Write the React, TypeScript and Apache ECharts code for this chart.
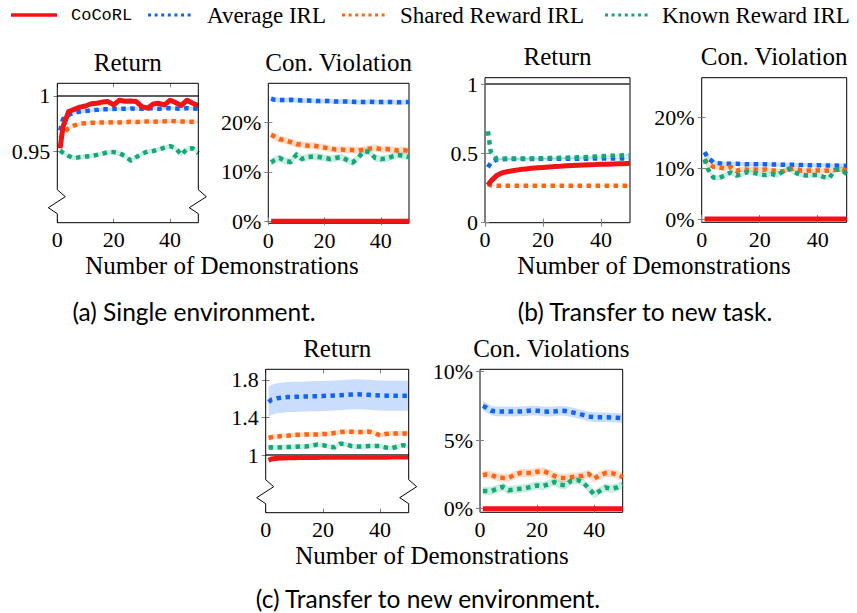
import React, { useEffect, useRef } from "react";
import * as echarts from "echarts";

// Number of demonstrations at which every method was evaluated
const X = [1, 2, 4, 6, 8, 10, 12, 14, 16, 18, 20, 22, 24, 26, 28, 30, 32, 34, 36, 38, 40, 42, 44, 46, 48, 50];

const METHODS = ["CoCoRL", "Average IRL", "Shared Reward IRL", "Known Reward IRL"];

// (a) Single environment: normalised return
const A_RET_COCORL = [0.953, 0.972, 0.986, 0.988, 0.990, 0.991, 0.993, 0.9935, 0.9945, 0.995, 0.992, 0.9962, 0.9952, 0.9955, 0.995, 0.9905, 0.989, 0.9928, 0.9934, 0.992, 0.9962, 0.994, 0.9915, 0.9962, 0.9934, 0.9913];
const A_RET_AVG = [0.969, 0.979, 0.983, 0.985, 0.986, 0.9865, 0.987, 0.9875, 0.988, 0.988, 0.9883, 0.9885, 0.9885, 0.9888, 0.9885, 0.9885, 0.9888, 0.989, 0.9885, 0.9888, 0.989, 0.9888, 0.9885, 0.989, 0.9888, 0.9885];
const A_RET_SHARED = [0.962, 0.966, 0.971, 0.9735, 0.975, 0.9755, 0.976, 0.976, 0.9762, 0.9762, 0.9765, 0.9762, 0.9765, 0.9768, 0.9765, 0.977, 0.977, 0.9768, 0.977, 0.9772, 0.9775, 0.9772, 0.977, 0.977, 0.9768, 0.9765];
const A_RET_KNOWN = [0.951, 0.949, 0.946, 0.944, 0.945, 0.9455, 0.946, 0.947, 0.948, 0.9495, 0.9495, 0.9485, 0.946, 0.942, 0.945, 0.948, 0.95, 0.9505, 0.952, 0.9535, 0.9548, 0.953, 0.947, 0.9525, 0.953, 0.9485];
const A_RET_SPREAD = [0.001, 0.0015, 0.0015, 0.002];

// (a) Single environment: constraint violation (%)
const A_CV_COCORL = [0, 0, 0, 0, 0, 0, 0, 0, 0, 0, 0, 0, 0, 0, 0, 0, 0, 0, 0, 0, 0, 0, 0, 0, 0, 0];
const A_CV_AVG = [24.8, 24.6, 24.5, 24.5, 24.55, 24.5, 24.4, 24.4, 24.35, 24.3, 24.3, 24.3, 24.2, 24.2, 24.2, 24.15, 24.1, 24.1, 24.15, 24.1, 24.1, 24.1, 24.1, 24.05, 24.1, 24.1];
const A_CV_SHARED = [17.5, 17.2, 16.6, 16.4, 16.0, 15.6, 15.5, 15.3, 15.3, 15.1, 14.9, 14.7, 14.5, 14.5, 14.4, 14.4, 14.3, 14.5, 14.7, 14.8, 14.6, 14.6, 14.5, 14.3, 14.4, 14.2];
const A_CV_KNOWN = [11.9, 12.3, 12.8, 12.2, 12.0, 13.5, 12.6, 13.0, 13.1, 13.0, 12.8, 12.6, 12.8, 13.0, 12.4, 11.9, 12.9, 14.2, 14.0, 12.8, 12.6, 12.7, 13.1, 13.4, 13.3, 13.0];
const A_CV_SPREAD = [0, 0.5, 0.7, 0.7];

// (b) Transfer to new task: normalised return
const B_RET_COCORL = [0.27, 0.3, 0.34, 0.36, 0.37, 0.377, 0.383, 0.388, 0.392, 0.396, 0.399, 0.402, 0.405, 0.407, 0.41, 0.412, 0.414, 0.416, 0.418, 0.419, 0.421, 0.422, 0.424, 0.425, 0.426, 0.428];
const B_RET_AVG = [0.4, 0.43, 0.455, 0.458, 0.459, 0.459, 0.46, 0.46, 0.46, 0.46, 0.461, 0.461, 0.461, 0.461, 0.462, 0.462, 0.462, 0.462, 0.462, 0.463, 0.463, 0.463, 0.463, 0.463, 0.463, 0.463];
const B_RET_SHARED = [0.28, 0.27, 0.267, 0.267, 0.267, 0.267, 0.267, 0.267, 0.267, 0.267, 0.267, 0.267, 0.267, 0.267, 0.267, 0.267, 0.267, 0.267, 0.267, 0.267, 0.267, 0.267, 0.267, 0.267, 0.267, 0.267];
const B_RET_KNOWN = [0.66, 0.51, 0.46, 0.462, 0.463, 0.463, 0.463, 0.464, 0.464, 0.465, 0.465, 0.466, 0.467, 0.468, 0.469, 0.47, 0.472, 0.473, 0.475, 0.477, 0.479, 0.481, 0.483, 0.485, 0.487, 0.488];
const B_RET_SPREAD = [0.004, 0.006, 0.004, 0.008];

// (b) Transfer to new task: constraint violation (%)
const B_CV_COCORL = [0, 0, 0, 0, 0, 0, 0, 0, 0, 0, 0, 0, 0, 0, 0, 0, 0, 0, 0, 0, 0, 0, 0, 0, 0, 0];
const B_CV_AVG = [13.2, 12.2, 11.2, 11.0, 10.9, 10.9, 10.9, 10.85, 10.8, 10.8, 10.8, 10.8, 10.75, 10.75, 10.7, 10.7, 10.7, 10.65, 10.65, 10.6, 10.6, 10.6, 10.55, 10.55, 10.5, 10.5];
const B_CV_SHARED = [11.8, 11.0, 10.3, 10.2, 10.0, 10.3, 9.5, 9.9, 9.7, 9.8, 9.7, 9.8, 9.6, 9.5, 9.4, 9.8, 10.0, 9.6, 9.5, 9.6, 9.6, 9.5, 9.6, 9.7, 9.9, 9.6];
const B_CV_KNOWN = [11.8, 10.0, 8.2, 8.1, 8.6, 9.2, 8.6, 8.9, 9.3, 9.1, 8.8, 8.7, 8.9, 8.6, 9.4, 9.9, 9.2, 8.8, 8.6, 8.7, 8.7, 8.3, 8.1, 9.7, 9.8, 8.9];
const B_CV_SPREAD = [0, 0.4, 0.5, 0.5];

// (c) Transfer to new environment: normalised return
const C_RET_COCORL = [0.945, 0.958, 0.966, 0.969, 0.971, 0.972, 0.973, 0.973, 0.974, 0.974, 0.975, 0.975, 0.975, 0.976, 0.976, 0.976, 0.976, 0.977, 0.977, 0.977, 0.977, 0.977, 0.978, 0.978, 0.978, 0.978];
const C_RET_AVG = [1.565, 1.59, 1.605, 1.612, 1.618, 1.62, 1.622, 1.624, 1.626, 1.628, 1.63, 1.632, 1.635, 1.638, 1.642, 1.645, 1.648, 1.646, 1.642, 1.638, 1.635, 1.633, 1.633, 1.632, 1.632, 1.632];
const C_RET_SHARED = [1.185, 1.19, 1.198, 1.203, 1.208, 1.215, 1.215, 1.22, 1.22, 1.22, 1.225, 1.225, 1.235, 1.245, 1.25, 1.248, 1.245, 1.245, 1.25, 1.235, 1.21, 1.225, 1.23, 1.23, 1.23, 1.228];
const C_RET_KNOWN = [1.08, 1.082, 1.08, 1.083, 1.085, 1.088, 1.09, 1.09, 1.1, 1.11, 1.105, 1.09, 1.082, 1.12, 1.115, 1.095, 1.09, 1.09, 1.095, 1.097, 1.096, 1.08, 1.072, 1.09, 1.105, 1.09];
const C_RET_SPREAD = [0.01, 0.16, 0.025, 0.025];

// (c) Transfer to new environment: constraint violations (%)
const C_CV_COCORL = [0, 0, 0, 0, 0, 0, 0, 0, 0, 0, 0, 0, 0, 0, 0, 0, 0, 0, 0, 0, 0, 0, 0, 0, 0, 0];
const C_CV_AVG = [7.5, 7.4, 7.15, 7.1, 7.1, 7.1, 7.08, 7.1, 7.12, 7.17, 7.15, 7.1, 7.08, 7.1, 7.15, 7.13, 7.05, 6.95, 6.85, 6.72, 6.68, 6.67, 6.67, 6.66, 6.64, 6.6];
const C_CV_SHARED = [2.45, 2.5, 2.45, 2.3, 2.25, 2.25, 2.45, 2.6, 2.6, 2.6, 2.7, 2.75, 2.6, 2.4, 2.25, 2.25, 2.3, 2.35, 2.4, 2.55, 2.2, 2.45, 2.6, 2.6, 2.5, 2.3];
const C_CV_KNOWN = [1.3, 1.3, 1.3, 1.45, 1.6, 1.35, 1.4, 1.45, 1.5, 1.6, 1.7, 1.65, 1.8, 1.95, 1.75, 1.7, 2.05, 2.1, 1.95, 1.5, 1.05, 1.3, 1.55, 1.45, 1.55, 1.75];
const C_CV_SPREAD = [0, 0.35, 0.3, 0.3];

// Optimal-policy reference return
const REFERENCE_RETURN = 1;

const X_TICKS = [0, 20, 40];

const COLORS = ["#f01414", "#0f64f5", "#ff6414", "#14a878"];
const SERIF = '"Liberation Serif", "Times New Roman", serif';
const MONO = '"Liberation Mono", "DejaVu Sans Mono", monospace';
const SANS = 'Lato, "Open Sans", sans-serif';

type Panel = {
  rect: [number, number, number, number];
  yMin: number;
  yMax: number;
  yTicks: number[];
  percent: boolean;
  broken: boolean;
  reference: boolean;
  title: string;
  values: number[][];
  spread: number[];
};

const PANELS: Panel[] = [
  {
    rect: [57.3, 83.3, 141, 139.4], yMin: 0.886, yMax: 1.0114, yTicks: [0.95, 1],
    percent: false, broken: true, reference: true, title: "Return",
    values: [A_RET_COCORL, A_RET_AVG, A_RET_SHARED, A_RET_KNOWN], spread: A_RET_SPREAD,
  },
  {
    rect: [268.3, 83.3, 140.7, 140], yMin: -0.4, yMax: 27.9, yTicks: [0, 10, 20],
    percent: true, broken: false, reference: false, title: "Con. Violation",
    values: [A_CV_COCORL, A_CV_AVG, A_CV_SHARED, A_CV_KNOWN], spread: A_CV_SPREAD,
  },
  {
    rect: [485, 77.7, 145, 145], yMin: 0, yMax: 1.046, yTicks: [0, 0.5, 1],
    percent: false, broken: false, reference: true, title: "Return",
    values: [B_RET_COCORL, B_RET_AVG, B_RET_SHARED, B_RET_KNOWN], spread: B_RET_SPREAD,
  },
  {
    rect: [701.7, 77.7, 145, 144.6], yMin: -0.65, yMax: 27.9, yTicks: [0, 10, 20],
    percent: true, broken: false, reference: false, title: "Con. Violation",
    values: [B_CV_COCORL, B_CV_AVG, B_CV_SHARED, B_CV_KNOWN], spread: B_CV_SPREAD,
  },
  {
    rect: [265.7, 369.3, 143, 143.4], yMin: 0.385, yMax: 1.914, yTicks: [1, 1.4, 1.8],
    percent: false, broken: true, reference: true, title: "Return",
    values: [C_RET_COCORL, C_RET_AVG, C_RET_SHARED, C_RET_KNOWN], spread: C_RET_SPREAD,
  },
  {
    rect: [480, 369.3, 142.7, 143], yMin: -0.26, yMax: 10.17, yTicks: [0, 5, 10],
    percent: true, broken: false, reference: false, title: "Con. Violations",
    values: [C_CV_COCORL, C_CV_AVG, C_CV_SHARED, C_CV_KNOWN], spread: C_CV_SPREAD,
  },
];

const TICK_STYLE = { color: "#808080", width: 1 };

function buildOption() {
  const grid: any[] = [];
  const xAxis: any[] = [];
  const yAxis: any[] = [];
  const series: any[] = [];
  const graphic: any[] = [];

  PANELS.forEach((p, gi) => {
    const [left, top, width, height] = p.rect;
    grid.push({
      left, top, width, height,
      show: !p.broken, borderColor: "#000", borderWidth: 1, backgroundColor: "transparent",
      containLabel: false, outerBoundsMode: "none",
    });
    const xBase = {
      type: "value", gridIndex: gi, min: 0, max: 50,
      axisLine: { show: false }, splitLine: { show: false },
      axisTick: { inside: true, length: 4, lineStyle: TICK_STYLE, customValues: X_TICKS },
    };
    xAxis.push({
      ...xBase, position: "bottom",
      axisLabel: { customValues: X_TICKS, margin: 6, color: "#000", fontFamily: SERIF, fontSize: 22, lineHeight: 22 },
    });
    xAxis.push({ ...xBase, position: "top", axisLabel: { show: false } });
    const yBase = {
      type: "value", gridIndex: gi, min: p.yMin, max: p.yMax,
      axisLine: { show: false }, splitLine: { show: false },
      axisTick: { inside: true, length: 4, lineStyle: TICK_STYLE, customValues: p.yTicks },
    };
    yAxis.push({
      ...yBase, position: "left",
      axisLabel: {
        customValues: p.yTicks, margin: 7, color: "#000", fontFamily: SERIF, fontSize: 22, lineHeight: 22,
        formatter: (v: number) => (p.percent ? `${v}%` : `${v}`),
      },
    });
    yAxis.push({ ...yBase, position: "right", axisLabel: { show: false } });

    const xi = 2 * gi;
    const yi = 2 * gi;

    // uncertainty bands, drawn as one polygon per method through the axis scales
    p.values.forEach((vals, mi) => {
      const s = p.spread[mi];
      if (!s) return;
      series.push({
        type: "custom", xAxisIndex: xi, yAxisIndex: yi, silent: true, z: 1, clip: true,
        data: X.map((x, i) => [x, vals[i] - s, vals[i] + s]),
        encode: { x: 0, y: [1, 2] },
        renderItem: (params: any, api: any) => {
          if (params.dataIndex !== 0) return null;
          const lower = X.map((x, i) => api.coord([x, vals[i] - s]));
          const upper = X.map((x, i) => api.coord([x, vals[i] + s])).reverse();
          return {
            type: "polygon",
            shape: { points: lower.concat(upper) },
            style: { fill: COLORS[mi], opacity: 0.22 },
          };
        },
      });
    });

    // optimal return, drawn over the curves
    if (p.reference) {
      series.push({
        type: "line", xAxisIndex: xi, yAxisIndex: yi, silent: true, z: 7, symbol: "none",
        lineStyle: { color: "#5f5f5f", width: 2 },
        data: [[0, REFERENCE_RETURN], [50, REFERENCE_RETURN]],
      });
    }

    // IRL baselines dotted, CoCoRL solid and on top
    [1, 2, 3, 0].forEach((mi) => {
      const solid = mi === 0;
      series.push({
        type: "line", name: METHODS[mi], xAxisIndex: xi, yAxisIndex: yi, silent: true,
        z: solid ? 6 : 3 + mi * 0.1, symbol: "none", clip: false,
        lineStyle: {
          color: COLORS[mi], width: solid ? 5 : 4.5,
          type: solid ? "solid" : [4.5, 4.5], cap: "butt", join: "round",
        },
        data: X.map((x, i) => [x, p.values[mi][i]]),
      });
    });

    // frame with zig-zag axis break
    if (p.broken) {
      const r = left + width;
      const b = top + height;
      const side = (sx: number) => [
        [sx, top], [sx, b - 33], [sx + 8, b - 26], [sx - 9, b - 15], [sx, b - 9], [sx, b],
      ];
      const st = { stroke: "#000", lineWidth: 1, fill: null };
      graphic.push({ type: "polyline", shape: { points: side(left) }, style: st, z: 10 });
      graphic.push({ type: "polyline", shape: { points: side(r) }, style: st, z: 10 });
      graphic.push({ type: "line", shape: { x1: left, y1: top, x2: r, y2: top }, style: st, z: 10 });
      graphic.push({ type: "line", shape: { x1: left, y1: b, x2: r, y2: b }, style: st, z: 10 });
    }

    graphic.push({
      type: "text", x: left + width / 2, y: top - 21,
      style: { text: p.title, align: "center", verticalAlign: "middle", fontFamily: SERIF, fontSize: 25, lineHeight: 25, fill: "#000" },
    });
  });

  const serifText = (text: string, x: number, y: number, size: number, align = "center") => ({
    type: "text", x, y,
    style: { text, align, verticalAlign: "middle", fontFamily: SERIF, fontSize: size, lineHeight: size, fill: "#000" },
  });

  graphic.push(serifText("Number of Demonstrations", 222, 265, 25));
  graphic.push(serifText("Number of Demonstrations", 654, 265, 25));
  graphic.push(serifText("Number of Demonstrations", 432, 555, 25));

  const caption = (text: string, x: number, y: number) => ({
    type: "text", x, y,
    style: { text, align: "center", verticalAlign: "middle", fontFamily: SANS, fontSize: 24.5, lineHeight: 25, fill: "#000" },
  });
  graphic.push(caption("(a) Single environment.", 194, 311));
  graphic.push(caption("(b) Transfer to new task.", 645, 311));
  graphic.push(caption("(c) Transfer to new environment.", 428, 598));

  // legend row
  const ly = 15;
  graphic.push({ type: "line", shape: { x1: 11, y1: ly, x2: 57, y2: ly }, style: { stroke: COLORS[0], lineWidth: 3.5 } });
  graphic.push({
    type: "text", x: 71, y: ly,
    style: { text: METHODS[0], align: "left", verticalAlign: "middle", fontFamily: MONO, fontSize: 17, fill: "#000" },
  });
  const legendItems: [number, number, number][] = [
    [1, 148, 207],
    [2, 342, 400],
    [3, 605, 662],
  ];
  legendItems.forEach(([mi, lx, tx]) => {
    graphic.push({
      type: "line", shape: { x1: lx, y1: ly, x2: lx + 46, y2: ly },
      style: { stroke: COLORS[mi], lineWidth: 3, lineDash: [3, 3.6] },
    });
    graphic.push(serifText(METHODS[mi], tx, ly, 23, "left"));
  });

  return { animation: false, backgroundColor: "#fff", grid, xAxis, yAxis, series, graphic };
}

export default function App() {
  const ref = useRef<HTMLDivElement>(null);
  useEffect(() => {
    if (!ref.current) return;
    const chart = echarts.init(ref.current, null, { renderer: "svg" });
    chart.setOption(buildOption());
    return () => chart.dispose();
  }, []);
  return (
    <div
      ref={ref}
      style={{ position: "fixed", left: 0, top: 0, width: 857, height: 613, background: "#fff" }}
    />
  );
}
